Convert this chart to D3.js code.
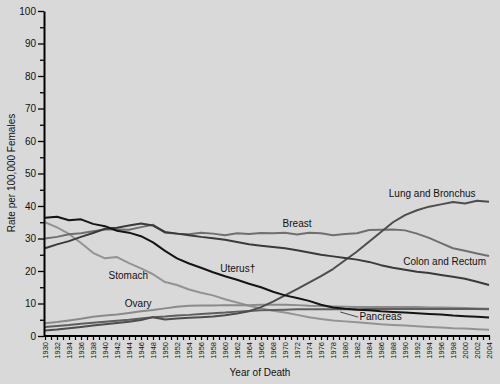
<!DOCTYPE html>
<html><head><meta charset="utf-8">
<script src="https://cdn.jsdelivr.net/npm/d3@7/dist/d3.min.js"></script>
<style>
html,body{margin:0;padding:0;background:#d9d9d9;}
svg{display:block;font-family:"Liberation Sans",Arial,sans-serif;}
</style></head>
<body>
<svg id="c" width="500" height="384"></svg>
<script>
const years = d3.range(1930, 2005, 2);
const lung     = [1.7,2.0,2.4,2.8,3.2,3.6,4.0,4.4,4.9,5.8,5.1,5.4,5.6,5.8,6.0,6.4,6.9,7.6,8.9,10.6,12.5,14.4,16.4,18.4,20.6,23.3,26.0,29.0,32.0,35.0,37.2,38.7,39.8,40.5,41.2,40.8,41.6,41.3];
const breast   = [30.0,30.5,31.3,31.6,32.2,32.8,32.8,32.7,33.5,34.2,31.8,31.5,31.3,31.8,31.5,31.0,31.6,31.4,31.7,31.6,31.8,31.2,31.8,31.6,31.0,31.4,31.6,32.6,32.7,32.8,32.5,31.5,30.2,28.6,27.0,26.2,25.4,24.6];
const colon    = [27.0,28.2,29.2,30.5,31.7,33.0,33.3,34.0,34.6,34.0,32.0,31.5,31.0,30.5,30.1,29.6,28.9,28.2,27.8,27.4,27.0,26.4,25.7,25.0,24.5,24.0,23.5,22.8,21.8,21.0,20.4,19.8,19.4,18.8,18.2,17.6,16.7,15.7];
const uterus   = [36.4,36.7,35.6,35.9,34.5,33.8,32.4,31.8,30.7,28.8,26.2,23.9,22.3,21.0,19.6,18.4,17.3,16.1,15.0,13.6,12.5,11.7,10.8,9.6,8.8,8.4,8.1,7.9,7.6,7.4,7.2,7.0,6.8,6.6,6.3,6.1,5.9,5.7];
const stomach  = [35.0,33.4,31.4,28.6,25.6,23.9,24.3,22.4,20.8,19.0,16.6,15.7,14.3,13.3,12.5,11.3,10.3,9.3,8.5,7.8,7.2,6.5,5.8,5.2,4.8,4.5,4.2,3.9,3.6,3.4,3.2,3.0,2.8,2.6,2.4,2.3,2.1,1.9];
const ovary    = [3.9,4.3,4.8,5.3,5.9,6.3,6.6,7.1,7.6,8.0,8.5,9.0,9.3,9.4,9.4,9.5,9.5,9.5,9.6,9.6,9.6,9.5,9.3,9.2,9.1,9.0,8.9,8.9,8.9,8.9,8.9,8.9,8.8,8.8,8.7,8.6,8.5,8.4];
const pancreas = [2.8,3.1,3.4,3.8,4.1,4.4,4.7,5.0,5.4,5.8,6.0,6.3,6.5,6.8,7.0,7.2,7.5,7.7,7.9,8.0,8.1,8.2,8.2,8.2,8.2,8.2,8.2,8.3,8.3,8.3,8.3,8.3,8.3,8.3,8.3,8.3,8.3,8.2];
const yTicks = [0,10,20,30,40,50,60,70,80,90,100];

const seriesNames  = ["Stomach","Ovary","Pancreas","Breast","Lung and Bronchus","Colon and Rectum","Uterus\u2020"];
const seriesValues = [stomach, ovary, pancreas, breast, lung, colon, uterus];
const seriesColors = ["#939393","#8a8a8a","#5e5e5e","#6f6f6f","#4d4d4d","#3a3a3a","#151515"];

const svg = d3.select("#c");
const x = d3.scaleLinear().domain([1930, 2004]).range([45, 489]);
const y = d3.scaleLinear().domain([0, 100]).range([336, 11]);

// lines
const line = d3.line().x(d => x(d[0])).y(d => y(d[1]));
seriesValues.forEach((vals, i) => {
  svg.append("path")
    .datum(years.map((yr, j) => [yr, vals[j]]))
    .attr("fill", "none")
    .attr("stroke", seriesColors[i])
    .attr("stroke-width", 2)
    .attr("stroke-linejoin", "round")
    .attr("d", line);
});

// y axis
const yAxis = svg.append("g").attr("transform", "translate(44,0)")
  .call(d3.axisLeft(y).tickValues(yTicks).tickSize(6).tickSizeOuter(0).tickPadding(2));
svg.append("g").attr("transform", "translate(44,0)")
  .call(d3.axisLeft(y).tickValues(d3.range(5, 100, 10)).tickSize(4).tickFormat("").tickSizeOuter(0))
  .select(".domain").remove();
yAxis.select(".domain").attr("stroke-width", 2);
yAxis.selectAll("text").attr("font-size", 10).attr("fill", "#111");
svg.selectAll(".tick line").attr("stroke-width", 1.3);

// x axis
const allYears = d3.range(1930, 2005, 1);
const xAxis = svg.append("g").attr("transform", "translate(0,336)")
  .call(d3.axisBottom(x).tickValues(allYears).tickSize(4).tickSizeOuter(0)
    .tickFormat(d => d % 2 === 0 ? String(d) : ""));
xAxis.select(".domain").attr("stroke-width", 2).attr("d", "M44,0H490");
xAxis.selectAll(".tick line").attr("stroke-width", 1.2);
xAxis.selectAll("text")
  .attr("font-size", 7.5)
  .attr("fill", "#111")
  .attr("text-anchor", "end")
  .attr("transform", "rotate(-90)")
  .attr("x", -6).attr("y", 0).attr("dy", "0.35em");

// axis titles
svg.append("text").attr("transform", "translate(15,173) rotate(-90)")
  .attr("text-anchor", "middle").attr("font-size", 10).attr("fill", "#111")
  .text("Rate per 100,000 Females");
svg.append("text").attr("x", 260).attr("y", 376)
  .attr("text-anchor", "middle").attr("font-size", 10).attr("fill", "#111")
  .text("Year of Death");

// series labels
const labels = [
  {t: "Lung and Bronchus", yr: 1987.3, v: 42.8},
  {t: "Breast", yr: 1969.6, v: 33.4},
  {t: "Colon and Rectum", yr: 1989.7, v: 21.7},
  {t: "Uterus\u2020", yr: 1959.2, v: 19.6},
  {t: "Stomach", yr: 1940.6, v: 17.6},
  {t: "Ovary", yr: 1943.3, v: 8.9},
  {t: "Pancreas", yr: 1982.4, v: 4.9}
];
svg.selectAll("text.lbl").data(labels).enter().append("text")
  .attr("class", "lbl")
  .attr("x", d => x(d.yr)).attr("y", d => y(d.v))
  .attr("font-size", 10).attr("fill", "#111")
  .text(d => d.t);
// pancreas leader
svg.append("line")
  .attr("x1", x(1979.2)).attr("y1", y(7.4))
  .attr("x2", x(1982.2)).attr("y2", y(5.8))
  .attr("stroke", "#222").attr("stroke-width", 0.8);
</script>
</body></html>
